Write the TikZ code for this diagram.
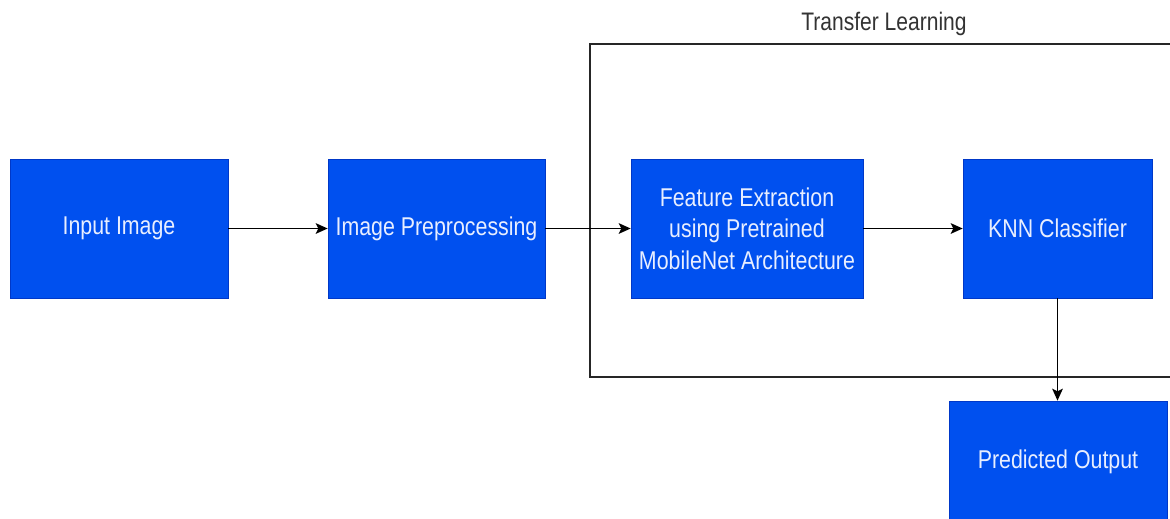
\documentclass[tikz,border=0pt]{standalone}
\usepackage{fontspec}
\setmainfont{Liberation Sans}[FakeStretch=0.83]
\usetikzlibrary{arrows.meta}
\definecolor{boxblue}{HTML}{0050EF}
\definecolor{boxline}{HTML}{0038C8}
\definecolor{boxtext}{HTML}{E8EEFF}
\definecolor{titlegray}{HTML}{333333}
\begin{document}
\begin{tikzpicture}[x=0.75pt,y=-0.75pt,
  box/.style={fill=boxblue, draw=boxline, line width=0.5pt, text=boxtext,
    font=\fontsize{19.3}{23.6}\selectfont, align=center, inner sep=0pt,
    minimum height=104.25pt},
  conn/.style={line width=1.2pt, -{Stealth[length=9pt,width=8pt,inset=2pt]}},
  frame/.style={line width=1.1pt, draw=black!85}]
\useasboundingbox (0,0) rectangle (1170,518);
\clip (0,0) rectangle (1170,518);
\fill[white] (0,0) rectangle (1170,518);
% frame
\draw[frame] (1175,44) -- (590,44) -- (590,377) -- (1175,377);
\node[text=titlegray, font=\fontsize{19}{21}\selectfont] (title) at (884,24) {Transfer Learning};
% boxes
\node[box, minimum width=163.5pt] (input) at (119,228.5) {Input Image};
\node[box, minimum width=162.75pt] (pre) at (436.5,228.5) {Image Preprocessing};
\node[box, minimum width=174pt] (feat) at (747,228.5) {Feature Extraction\\using Pretrained\\MobileNet Architecture};
\node[box, minimum width=141.75pt] (knn) at (1057.5,228.5) {KNN Classifier};
\node[box, minimum width=163.5pt, minimum height=91.5pt] (out) at (1058,462) {Predicted Output};
% connectors
\draw[conn] (input) -- (pre);
\draw[conn] (pre) -- (feat);
\draw[conn] (feat) -- (knn);
\draw[conn] (knn.south) -- (knn.south |- out.north);
\end{tikzpicture}
\end{document}
